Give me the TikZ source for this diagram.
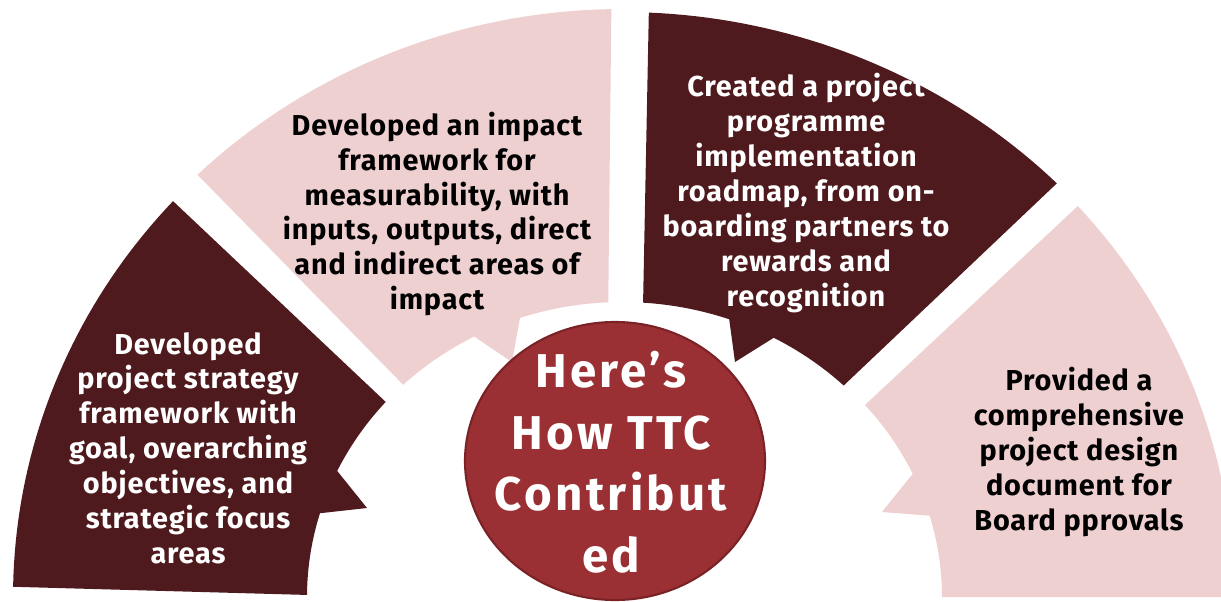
\documentclass[tikz,border=0pt]{standalone}
\usepackage{fontspec}
\setmainfont{Fira Sans}
\newfontfamily\segfont[LetterSpace=3]{Fira Sans}
\newfontfamily\hubfont[LetterSpace=7]{Fira Sans}
\definecolor{darkseg}{HTML}{4F1A1E}
\definecolor{pinkseg}{HTML}{EFD0D1}
\definecolor{hubfill}{HTML}{9B3034}
\definecolor{hubline}{HTML}{7A2226}
\begin{document}
\begin{tikzpicture}[x=0.02cm,y=-0.02cm,
  segtext/.style={align=center, font=\segfont\fontsize{16.4}{19.84}\selectfont\bfseries, inner sep=0pt},
  hubtext/.style={align=center, text=white, font=\hubfont\fontsize{27}{35}\selectfont\bfseries, inner sep=0pt},
  arcplot/.style={samples=40, variable=\t}]
\useasboundingbox (0,0) rectangle (1221,602);
\clip (0,0) rectangle (1221,602);
% segment 1 (left, dark)
\fill[darkseg] plot[arcplot, domain=137.5:179] ({622+609*cos(\t)},{597-586*sin(\t)})
  -- plot[arcplot, domain=179.6:163.5] ({622+315*cos(\t)},{597-295*sin(\t)})
  -- (367,508)
  -- plot[arcplot, domain=154.7:138.6] ({622+315*cos(\t)},{597-295*sin(\t)})
  -- cycle;
% segment 2 (upper left, pink)
\fill[pinkseg] plot[arcplot, domain=91:134.1] ({622+610*cos(\t)},{597-588*sin(\t)})
  -- plot[arcplot, domain=134:118] ({622+315*cos(\t)},{597-295*sin(\t)})
  -- (512,362)
  -- plot[arcplot, domain=108.9:92.5] ({622+315*cos(\t)},{597-295*sin(\t)})
  -- cycle;
% segment 3 (upper right, dark)
\fill[darkseg] plot[arcplot, domain=87.5:45] ({622+615*cos(\t)},{597-585*sin(\t)})
  -- plot[arcplot, domain=45.8:61.5] ({622+318*cos(\t)},{597-295*sin(\t)})
  -- (735,362)
  -- plot[arcplot, domain=70.3:86.2] ({622+318*cos(\t)},{597-295*sin(\t)})
  -- cycle;
% segment 4 (right, pink)
\fill[pinkseg] plot[arcplot, domain=41.85:0] ({622+612*cos(\t)},{597-586*sin(\t)})
  -- plot[arcplot, domain=0:16] ({622+320*cos(\t)},{597-295*sin(\t)})
  -- (882,512)
  -- plot[arcplot, domain=24.7:40.6] ({622+320*cos(\t)},{597-295*sin(\t)})
  -- cycle;
% hub
\filldraw[fill=hubfill, draw=hubline, line width=1.2pt] (615,461) ellipse [x radius=150, y radius=139];
% texts
\node[segtext, text=white] (t1) at (188,448) {Developed\\project strategy\\framework with\\goal, overarching\\objectives, and\\strategic focus\\areas};
\node[segtext, text=black] (t2) at (437,214) {Developed an impact\\framework for\\measurability, with\\inputs, outputs, direct\\and indirect areas of\\impact};
\node[segtext, text=white] (t3) at (806,193) {Created a project\\programme\\implementation\\roadmap, from on-\\boarding partners to\\rewards and\\recognition};
\node[segtext, text=black] (t4) at (1079,452) {Provided a\\comprehensive\\project design\\document for\\Board pprovals};
\node[hubtext] (hub) at (611,462) {Here’s\\How TTC\\Contribut\\ed};
\end{tikzpicture}
\end{document}
